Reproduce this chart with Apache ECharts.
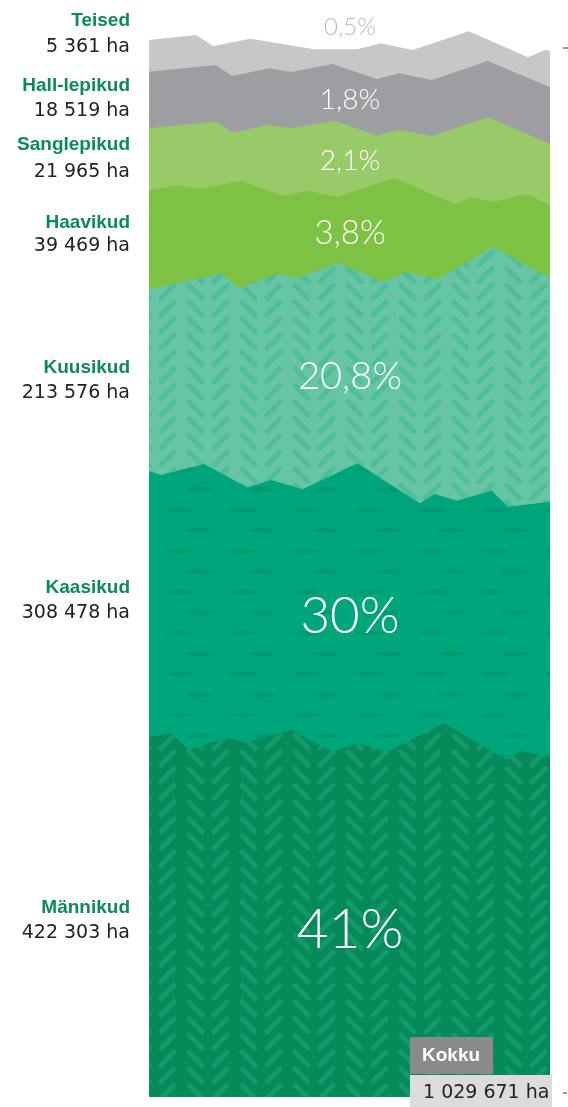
<!DOCTYPE html>
<html>
<head>
<meta charset="utf-8">
<script src="https://cdn.jsdelivr.net/npm/echarts@6/dist/echarts.min.js"></script>
<style>
html,body{margin:0;padding:0;background:#fff;}
#chart{width:568px;height:1107px;}
</style>
</head>
<body>
<div id="chart"></div>
<script>
// ---- data ----
const categories = ['Teised', 'Hall-lepikud', 'Sanglepikud', 'Haavikud', 'Kuusikud', 'Kaasikud', 'Männikud'];
const hectares = ['5 361 ha', '18 519 ha', '21 965 ha', '39 469 ha', '213 576 ha', '308 478 ha', '422 303 ha'];
const percents = ['0,5%', '1,8%', '2,1%', '3,8%', '20,8%', '30%', '41%'];
const totalLabel = 'Kokku';
const totalValue = '1 029 671 ha';

// Upper edge of each layer: [x offset along the band, vertical position]
const edgeTeised = [[0,40],[47,35],[64,46],[101,38.7],[165,49.3],[208,49.3],[231,43.3],[263,50],[319,31.3],[378,57.3],[395,50],[400,50.7]];
const edgeHall = [[0,71.7],[66,65],[83,76],[120,68.3],[142,72],[183,64],[227,79],[250,73.3],[282,80],[338,61],[400,87.3]];
const edgeSangle = [[0,128.3],[67,121.7],[84,132.7],[118,125],[142,128.3],[185,120.7],[227,135.3],[250,130],[282,136],[338,117.3],[400,144]];
const edgeHaavikud = [[0,190.7],[27,185],[49,189],[92,181],[135,196],[157,190.7],[189,196.7],[245,177.7],[305,204],[322,197.3],[344,201.7],[377,194],[400,205]];
const edgeKuusikud = [[0,289.3],[72,273.3],[90,288.3],[127,274],[147,277.7],[190,262.7],[233,281.7],[257,272.3],[288,279],[343,246.7],[400,278.3]];
const edgeKaasikud = [[0,471],[12,475],[55,464],[98,487.3],[122,480],[153,489.3],[208,463.3],[270,503.3],[285,494],[307,500.7],[342,490.7],[358,506.7],[400,501.7]];
const edgeMannikud = [[0,737.3],[22,733.3],[40,750],[77,737.3],[97,742.7],[142,730],[183,751.7],[208,743.3],[238,751.7],[294,723.3],[357,760],[370,750.7],[400,756.7]];
const edges = [edgeTeised, edgeHall, edgeSangle, edgeHaavikud, edgeKuusikud, edgeKaasikud, edgeMannikud];

// ---- styles ----
function chevronPattern(base, stroke) {
  const W = 53, H = 50, RH = 50 / 3;
  const c = document.createElement('canvas');
  c.width = W; c.height = H;
  const g = c.getContext('2d');
  g.fillStyle = base; g.fillRect(0, 0, W, H);
  g.strokeStyle = stroke; g.lineWidth = 5; g.lineCap = 'round';
  for (let r = 0; r < 3; r++) {
    for (const dx of [-W, 0, W]) {
      for (const dy of [-H, 0, H]) {
        const ox = dx, oy = r * RH + dy;
        g.beginPath(); g.moveTo(ox + 2, oy + 15); g.lineTo(ox + 15, oy + 2); g.stroke();
        g.beginPath(); g.moveTo(ox + 30, oy + 2); g.lineTo(ox + 43, oy + 15); g.stroke();
      }
    }
  }
  return { image: c, repeat: 'repeat' };
}
function spotPattern(base, spot) {
  const W = 63, H = 41;
  const c = document.createElement('canvas');
  c.width = W; c.height = H;
  const g = c.getContext('2d');
  g.fillStyle = base; g.fillRect(0, 0, W, H);
  g.fillStyle = spot;
  const centers = [[11, 38.5], [54, 18]];
  for (const [cx0, cy0] of centers) {
    for (const dx of [-W, 0, W]) {
      for (const dy of [-H, 0, H]) {
        const cx = cx0 + dx, cy = cy0 + dy;
        g.beginPath();
        g.moveTo(cx - 15, cy);
        g.quadraticCurveTo(cx, cy - 5, cx + 15, cy);
        g.quadraticCurveTo(cx, cy + 5, cx - 15, cy);
        g.fill();
      }
    }
  }
  return { image: c, repeat: 'repeat' };
}

const fills = [
  '#c6c7c9',
  '#9d9ea2',
  '#98cb67',
  '#7dc243',
  chevronPattern('#67c4a4', '#4ebf99'),
  spotPattern('#00a67b', '#019971'),
  chevronPattern('#068a5a', '#149a6a')
];

const pctStyle = [
  { y: 27, size: 24, color: '#b9babc' },
  { y: 100, size: 28, color: '#ffffff' },
  { y: 161, size: 28, color: '#ffffff' },
  { y: 233, size: 33, color: '#ffffff' },
  { y: 377, size: 38, color: '#ffffff' },
  { y: 617, size: 51, color: '#ffffff' },
  { y: 930, size: 55, color: '#ffffff' }
];
const labelY = [[21, 47], [86, 111], [145, 172], [223, 246], [368, 393], [588, 613], [908, 933]];

const chart = echarts.init(document.getElementById('chart'), null, { renderer: 'canvas' });

const series = edges.map((edge, i) => ({
  type: 'line',
  name: categories[i],
  data: edge,
  showSymbol: false,
  symbol: 'none',
  lineStyle: { width: 0 },
  areaStyle: { color: fills[i], opacity: 1, origin: 'end' },
  silent: true,
  z: 2
}));

const graphics = [];
categories.forEach((name, i) => {
  graphics.push({
    type: 'text', x: 130, y: labelY[i][0],
    style: { text: name, fill: '#0b8a5b', font: 'bold 19px "Liberation Sans", Arial, sans-serif', textAlign: 'right', textVerticalAlign: 'middle' }
  });
  graphics.push({
    type: 'text', x: 130, y: labelY[i][1],
    style: { text: hectares[i], fill: '#222222', font: '19px "DejaVu Sans", sans-serif', textAlign: 'right', textVerticalAlign: 'middle' }
  });
  graphics.push({
    type: 'text', x: 350, y: pctStyle[i].y, z: 10,
    style: { text: percents[i], fill: pctStyle[i].color, font: '300 ' + pctStyle[i].size + 'px Lato, sans-serif', textAlign: 'center', textVerticalAlign: 'middle' }
  });
});
// total box
graphics.push({ type: 'rect', shape: { x: 410, y: 1037, width: 83, height: 37 }, style: { fill: '#8a8a8c' }, z: 10 });
graphics.push({ type: 'text', x: 422, y: 1056, z: 11, style: { text: totalLabel, fill: '#ffffff', font: 'bold 19px "Liberation Sans", Arial, sans-serif', textAlign: 'left', textVerticalAlign: 'middle' } });
graphics.push({ type: 'rect', shape: { x: 410, y: 1075, width: 142, height: 32 }, style: { fill: '#dcdcdd' }, z: 10 });
graphics.push({ type: 'text', x: 423, y: 1093, z: 11, style: { text: totalValue, fill: '#222222', font: '19px "DejaVu Sans", sans-serif', textAlign: 'left', textVerticalAlign: 'middle' } });
// small right-side ticks
graphics.push({ type: 'line', shape: { x1: 563, y1: 48, x2: 568, y2: 48 }, style: { stroke: '#333', lineWidth: 1 }, z: 10 });
graphics.push({ type: 'line', shape: { x1: 563, y1: 1093, x2: 567, y2: 1093 }, style: { stroke: '#333', lineWidth: 1 }, z: 10 });

chart.setOption({
  animation: false,
  backgroundColor: '#ffffff',
  grid: { left: 149, right: 18, top: 0, bottom: 10, containLabel: false },
  xAxis: { type: 'value', min: 0, max: 400, show: false },
  yAxis: { type: 'value', min: 0, max: 1097, inverse: true, show: false },
  series: series,
  graphic: graphics
});
</script>
</body>
</html>
